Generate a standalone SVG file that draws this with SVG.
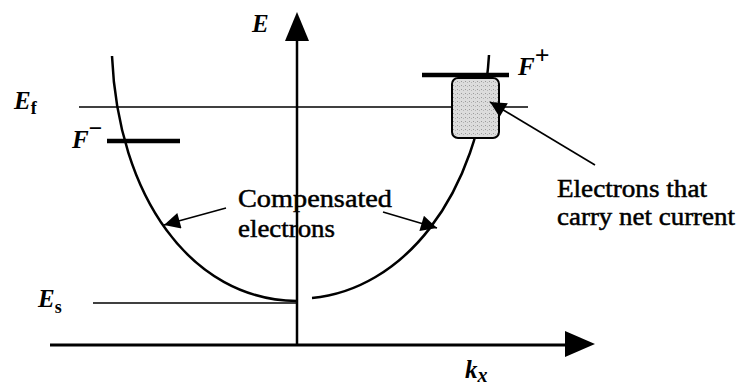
<svg xmlns="http://www.w3.org/2000/svg" width="737" height="385" viewBox="0 0 737 385">
<style>
.ax{stroke:#000;fill:none}
.lvl{stroke:#000;stroke-width:1.5;fill:none}
.bar{stroke:#000;stroke-width:4.5;fill:none}
.curve{stroke:#000;stroke-width:2.5;fill:none}
.ann{stroke:#000;stroke-width:1.6;fill:none;marker-end:url(#ah)}
text{font-family:"Liberation Serif","Times New Roman","DejaVu Serif",serif;fill:#000}
.math{font-weight:bold;font-style:italic;font-size:25px}
.sub{font-style:normal}
.lbl{font-size:26px;stroke:#000;stroke-width:0.5}
</style>
<defs>
<marker id="ah" viewBox="0 0 10 10" refX="10" refY="5" markerUnits="userSpaceOnUse" markerWidth="22" markerHeight="16" orient="auto">
<path d="M0,0 L10,5 L0,10 z" fill="#000"/>
</marker>
<pattern id="stip" width="4" height="4" patternUnits="userSpaceOnUse">
<rect width="4" height="4" fill="#dcdcdc"/>
<rect x="1" y="1" width="1" height="1" fill="#9a9a9a"/>
<rect x="3" y="2" width="1" height="1" fill="#b5b5b5"/>
</pattern>
</defs>
<rect width="737" height="385" fill="#fff"/>

<g id="levels">
<line class="lvl" x1="79" y1="107" x2="528" y2="107"/>
<line class="lvl" x1="93" y1="303" x2="297" y2="303"/>
</g>

<g id="axes">
<line class="ax" stroke-width="2.5" x1="297" y1="346" x2="297" y2="38"/>
<polygon points="297,12 285,41 309,41" fill="#000"/>
<line class="ax" stroke-width="3" x1="50" y1="345" x2="568" y2="345"/>
<polygon points="595,344 565,331 565,357" fill="#000"/>
</g>

<g id="band">
<path class="curve" d="M112,56 C118,195 190,300 297,301"/>
<path class="curve" d="M312,298 C400,290 480,200 489,55"/>
</g>

<g id="F-minus">
<line class="bar" x1="107" y1="141" x2="180" y2="141"/>
</g>

<g id="current-box">
<rect x="452" y="78" width="47" height="60" rx="6" ry="6" fill="url(#stip)" stroke="#000" stroke-width="2"/>
<line class="bar" x1="422" y1="75" x2="509" y2="75"/>
</g>

<g id="connectors">
<line class="ann" x1="226" y1="208" x2="164" y2="225"/>
<line class="ann" x1="383" y1="212" x2="437" y2="228"/>
<line class="ann" x1="595" y1="165" x2="490" y2="102"/>
</g>

<g id="labels">
<text class="math" x="252" y="32">E</text>
<text class="math" x="14" y="109">E<tspan class="sub" dy="5" style="font-size:18px">f</tspan></text>
<text class="math" x="72" y="148">F<tspan class="sub" dy="-12" style="font-size:24px">−</tspan></text>
<text class="math" x="518" y="75">F<tspan class="sub" dy="-11" style="font-size:26px">+</tspan></text>
<text class="math" x="38" y="307">E<tspan class="sub" dy="6" style="font-size:18px">s</tspan></text>
<text class="math" x="465" y="378">k<tspan dy="4" style="font-size:20px">x</tspan></text>
</g>

<g id="text-compensated">
<text class="lbl" x="238" y="207" textLength="154" lengthAdjust="spacingAndGlyphs">Compensated</text>
<text class="lbl" x="238" y="237" textLength="97" lengthAdjust="spacingAndGlyphs">electrons</text>
</g>

<g id="text-current">
<text class="lbl" x="557" y="197" style="font-size:25px" textLength="150" lengthAdjust="spacingAndGlyphs">Electrons that</text>
<text class="lbl" x="557" y="225" style="font-size:25px" textLength="178" lengthAdjust="spacingAndGlyphs">carry net current</text>
</g>
</svg>
